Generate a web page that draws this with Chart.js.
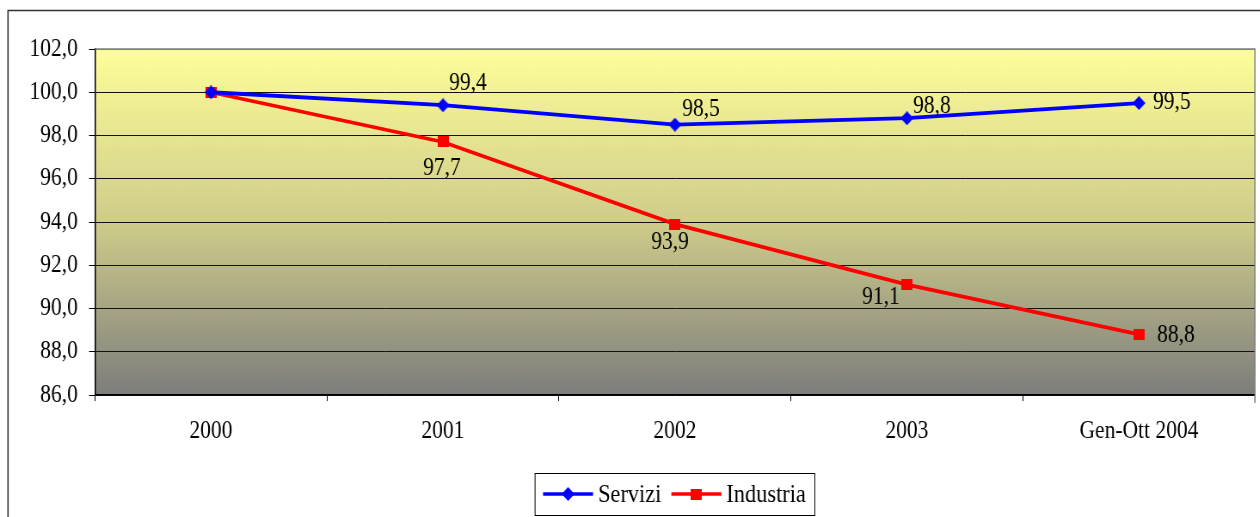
<!DOCTYPE html>
<html>
<head>
<meta charset="utf-8">
<script src="https://cdn.jsdelivr.net/npm/chart.js@4.4.1/dist/chart.umd.min.js"></script>
<style>
html, body { margin: 0; padding: 0; background: #fff; overflow: hidden; }
#wrap { width: 1260px; height: 517px; overflow: hidden; }
#c { display: block; transform: scaleX(0.86); transform-origin: 0 0; }
</style>
</head>
<body>
<div id="wrap"><canvas id="c" width="1465" height="517"></canvas></div>
<script>
// data
const categories = ['2000', '2001', '2002', '2003', 'Gen-Ott 2004'];
const servizi = [100.0, 99.4, 98.5, 98.8, 99.5];
const industria = [100.0, 97.7, 93.9, 91.1, 88.8];
const yMin = 86, yMax = 102, yStep = 2;
const seriesNames = ['Servizi', 'Industria'];

// the original picture is squeezed horizontally, so draw wide and scale down
const SX = 0.86;
const FONT = "'Times New Roman', 'Liberation Serif', serif";

// label offsets from each point, in screen px (null = no label)
const serviziLabelOff = [null, [25, -22], [26, -15], [25, -12], [33, -1]];
const industriaLabelOff = [null, [-1, 26], [-5, 18], [-26, 13], [37, 1]];

const fmt = v => v.toFixed(1).replace('.', ',');

function makeMarker(shape, color, w, h) {
  const c = document.createElement('canvas');
  c.width = w; c.height = h;
  const g = c.getContext('2d');
  g.fillStyle = color;
  if (shape === 'diamond') {
    g.beginPath();
    g.moveTo(w / 2, 0); g.lineTo(w, h / 2); g.lineTo(w / 2, h); g.lineTo(0, h / 2);
    g.closePath(); g.fill();
  } else {
    g.fillRect(0, 0, w, h);
  }
  return c;
}
const diamond = makeMarker('diamond', '#0000FF', 15, 14);
const square = makeMarker('square', '#FF0000', 13, 11);

const background = {
  id: 'background',
  beforeDraw(chart) {
    const {ctx, chartArea: a} = chart;
    ctx.save();
    const gr = ctx.createLinearGradient(0, a.top, 0, a.bottom);
    gr.addColorStop(0, 'rgb(254,254,153)');
    gr.addColorStop(0.5, 'rgb(207,204,138)');
    gr.addColorStop(1, 'rgb(125,125,124)');
    ctx.fillStyle = gr;
    ctx.fillRect(a.left, a.top, a.right - a.left, a.bottom - a.top);
    // outer chart frame (only top and left edge fall inside the picture)
    ctx.strokeStyle = '#333';
    ctx.lineWidth = 1.6;
    ctx.beginPath();
    ctx.moveTo(8 / SX, 600); ctx.lineTo(8 / SX, 10.5); ctx.lineTo(chart.width + 10, 10.5);
    ctx.stroke();
    ctx.restore();
  },
  afterDatasetsDraw(chart) {
    const {ctx, chartArea: a} = chart;
    ctx.save();
    ctx.strokeStyle = '#808080';
    ctx.lineWidth = 1.5;
    ctx.beginPath();
    ctx.moveTo(a.left, a.top); ctx.lineTo(a.right, a.top); ctx.lineTo(a.right, a.bottom + 8);
    ctx.stroke();
    ctx.restore();
  }
};

const valueLabels = {
  id: 'valueLabels',
  afterDraw(chart) {
    const ctx = chart.ctx;
    ctx.save();
    ctx.font = '25px ' + FONT;
    ctx.fillStyle = '#000';
    ctx.textAlign = 'center';
    ctx.textBaseline = 'middle';
    [serviziLabelOff, industriaLabelOff].forEach((offs, di) => {
      const meta = chart.getDatasetMeta(di);
      const vals = chart.data.datasets[di].data;
      meta.data.forEach((pt, i) => {
        const o = offs[i];
        if (!o) return;
        ctx.fillText(fmt(vals[i]), pt.x + o[0] / SX, pt.y + o[1]);
      });
    });
    ctx.restore();
  }
};

const boxLegend = {
  id: 'boxLegend',
  afterDraw(chart) {
    const {ctx, chartArea: a} = chart;
    const markers = [diamond, square];
    ctx.save();
    ctx.font = '26px ' + FONT;
    const lineLen = 50 / SX, padL = 8 / SX, padR = 9 / SX, gap = 5 / SX, itemGap = 10 / SX;
    const widths = seriesNames.map(n => ctx.measureText(n).width);
    let total = padL + padR;
    widths.forEach((w, i) => { total += lineLen + gap + w + (i ? 0 : itemGap); });
    const cx = (a.left + a.right) / 2;
    const top = 473, h = 42, cy = top + h / 2;
    let x = cx - total / 2;
    ctx.strokeStyle = '#000';
    ctx.lineWidth = 1;
    ctx.strokeRect(x, top + 0.5, total, h);
    x += padL;
    chart.data.datasets.forEach((ds, i) => {
      ctx.strokeStyle = ds.borderColor;
      ctx.lineWidth = 3.5;
      ctx.beginPath();
      ctx.moveTo(x, cy); ctx.lineTo(x + lineLen, cy);
      ctx.stroke();
      const m = markers[i];
      ctx.drawImage(m, x + lineLen / 2 - m.width / 2, cy - m.height / 2);
      x += lineLen + gap;
      ctx.fillStyle = '#000';
      ctx.textBaseline = 'middle';
      ctx.fillText(seriesNames[i], x, cy + 1);
      x += widths[i] + itemGap;
    });
    ctx.restore();
  }
};

new Chart(document.getElementById('c'), {
  type: 'line',
  data: {
    labels: categories,
    datasets: [
      {label: seriesNames[0], data: servizi, borderColor: '#0000FF', borderWidth: 3.8,
       pointStyle: diamond, pointRadius: 7, tension: 0},
      {label: seriesNames[1], data: industria, borderColor: '#FF0000', borderWidth: 3.8,
       pointStyle: square, pointRadius: 7, tension: 0}
    ]
  },
  options: {
    responsive: false,
    animation: false,
    events: [],
    layout: {autoPadding: false, padding: {left: 8 / SX, top: 49, right: 5 / SX, bottom: 0}},
    plugins: {legend: {display: false}, tooltip: {enabled: false}},
    scales: {
      x: {
        offset: true,
        grid: {offset: true, drawOnChartArea: false, drawTicks: true, tickLength: 6, color: '#000', lineWidth: 1},
        border: {display: true, color: '#000', width: 1.5},
        ticks: {color: '#000', font: {family: FONT, size: 25}, padding: 15, maxRotation: 0, autoSkip: false},
        afterFit(scale) { scale.height = 122; scale.paddingLeft = 0; scale.paddingRight = 0; }
      },
      y: {
        min: yMin, max: yMax,
        grid: {color: ctx => (ctx.tick && ctx.tick.value === yMax ? '#808080' : '#111'), lineWidth: 1, tickLength: 7, tickColor: '#000'},
        border: {display: true, color: '#000', width: 1.5},
        ticks: {stepSize: yStep, color: '#000', font: {family: FONT, size: 25}, padding: 13, callback: v => fmt(v)},
        afterFit(scale) { scale.width = 87 / SX; scale.paddingTop = 0; scale.paddingBottom = 0; }
      }
    }
  },
  plugins: [background, valueLabels, boxLegend]
});
</script>
</body>
</html>
